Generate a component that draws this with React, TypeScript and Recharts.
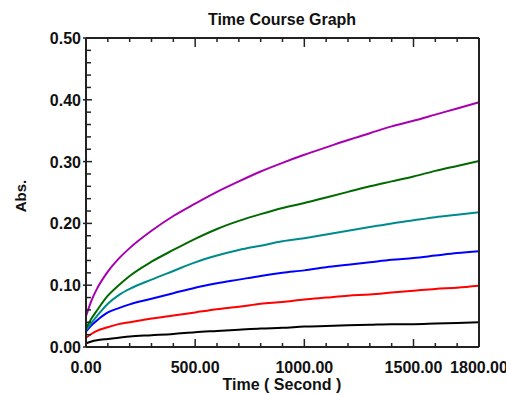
import { LineChart, Line, XAxis, YAxis } from "recharts";

const times = [0, 25, 50, 100, 150, 200, 300, 400, 500, 600, 700, 800, 900, 1000, 1100, 1200, 1300, 1400, 1500, 1600, 1700, 1800];

const purple = [0.05, 0.075, 0.094, 0.122, 0.143, 0.16, 0.188, 0.212, 0.232, 0.251, 0.268, 0.284, 0.298, 0.311, 0.323, 0.335, 0.346, 0.357, 0.366, 0.376, 0.386, 0.396];
const green = [0.03, 0.046, 0.059, 0.083, 0.1, 0.115, 0.138, 0.157, 0.175, 0.191, 0.204, 0.215, 0.225, 0.233, 0.242, 0.251, 0.26, 0.268, 0.276, 0.285, 0.293, 0.301];
const teal = [0.027, 0.039, 0.05, 0.07, 0.084, 0.094, 0.109, 0.123, 0.137, 0.148, 0.157, 0.164, 0.171, 0.176, 0.182, 0.188, 0.194, 0.2, 0.205, 0.21, 0.214, 0.218];
const blue = [0.025, 0.035, 0.043, 0.056, 0.063, 0.069, 0.078, 0.087, 0.096, 0.103, 0.109, 0.115, 0.12, 0.124, 0.129, 0.133, 0.137, 0.141, 0.144, 0.148, 0.152, 0.155];
const red = [0.015, 0.021, 0.026, 0.032, 0.037, 0.04, 0.046, 0.051, 0.056, 0.061, 0.065, 0.07, 0.073, 0.077, 0.08, 0.083, 0.085, 0.088, 0.091, 0.094, 0.096, 0.099];
const black = [0.006, 0.009, 0.011, 0.013, 0.015, 0.017, 0.019, 0.021, 0.024, 0.026, 0.028, 0.03, 0.031, 0.033, 0.034, 0.035, 0.036, 0.037, 0.037, 0.038, 0.039, 0.04];

const xTicks = [0, 100, 200, 300, 400, 500, 600, 700, 800, 900, 1000, 1100, 1200, 1300, 1400, 1500, 1600, 1700, 1800];
const xLabels = [0, 500, 1000, 1500, 1800];
const yTicks = [0, 0.02, 0.04, 0.06, 0.08, 0.1, 0.12, 0.14, 0.16, 0.18, 0.2, 0.22, 0.24, 0.26, 0.28, 0.3, 0.32, 0.34, 0.36, 0.38, 0.4, 0.42, 0.44, 0.46, 0.48, 0.5];
const yLabels = [0, 0.1, 0.2, 0.3, 0.4, 0.5];

const data = times.map((t, i) => ({
  t,
  purple: purple[i],
  green: green[i],
  teal: teal[i],
  blue: blue[i],
  red: red[i],
  black: black[i],
}));

const series = [
  { key: "black", color: "#000000" },
  { key: "red", color: "#ff0000" },
  { key: "blue", color: "#0000ff" },
  { key: "teal", color: "#008b8b" },
  { key: "green", color: "#006a00" },
  { key: "purple", color: "#a800b0" },
];

const font = "'Liberation Sans', Arial, sans-serif";
const frame = "#222";

const isYLabel = (v: number) => yLabels.some((l) => Math.abs(l - v) < 1e-6);

function BottomTick(props: any) {
  const { x, y, payload } = props;
  const major = xLabels.includes(payload.value);
  return (
    <g>
      <line x1={x} x2={x} y1={y} y2={y - (major ? 8 : 4)} stroke={frame} strokeWidth={1.5} />
      {major && (
        <text x={x} y={y + 26} textAnchor="middle" fontFamily={font} fontWeight="bold" fontSize={16} fill="#111">
          {payload.value.toFixed(2)}
        </text>
      )}
    </g>
  );
}

function TopTick(props: any) {
  const { x, y, payload } = props;
  const major = xLabels.includes(payload.value);
  return <line x1={x} x2={x} y1={y} y2={y + (major ? 9 : 4)} stroke={frame} strokeWidth={1.5} />;
}

function LeftTick(props: any) {
  const { x, y, payload } = props;
  const major = isYLabel(payload.value);
  return (
    <g>
      <line x1={major ? x - 3 : x} x2={x + (major ? 6 : 5)} y1={y} y2={y} stroke={frame} strokeWidth={1.5} />
      {major && (
        <text x={x - 5} y={y + 6} textAnchor="end" fontFamily={font} fontWeight="bold" fontSize={16} fill="#111">
          {payload.value.toFixed(2)}
        </text>
      )}
    </g>
  );
}

function RightTick(props: any) {
  const { x, y, payload } = props;
  const major = isYLabel(payload.value);
  return <line x1={major ? x + 2 : x} x2={x - (major ? 6 : 4)} y1={y} y2={y} stroke={frame} strokeWidth={1.5} />;
}

export default function App() {
  return (
    <div style={{ position: "absolute", left: 0, top: 0, width: 506, height: 394, background: "#fff" }}>
      <LineChart width={506} height={394} data={data} margin={{ top: 37, right: 26, bottom: 0, left: 0 }}>
        <XAxis
          xAxisId="b"
          dataKey="t"
          type="number"
          domain={[0, 1800]}
          ticks={xTicks}
          interval={0}
          height={47}
          tickSize={0}
          tickMargin={0}
          tickLine={false}
          axisLine={{ stroke: frame, strokeWidth: 2 }}
          tick={(p: any) => <BottomTick {...p} />}
        />
        <XAxis
          xAxisId="t"
          orientation="top"
          dataKey="t"
          type="number"
          domain={[0, 1800]}
          ticks={xTicks}
          interval={0}
          height={1}
          tickSize={0}
          tickMargin={0}
          tickLine={false}
          axisLine={{ stroke: frame, strokeWidth: 2 }}
          tick={(p: any) => <TopTick {...p} />}
        />
        <YAxis
          yAxisId="l"
          type="number"
          domain={[0, 0.5]}
          ticks={yTicks}
          interval={0}
          width={86}
          tickSize={0}
          tickMargin={0}
          tickLine={false}
          axisLine={{ stroke: frame, strokeWidth: 2 }}
          tick={(p: any) => <LeftTick {...p} />}
        />
        <YAxis
          yAxisId="r"
          orientation="right"
          type="number"
          domain={[0, 0.5]}
          ticks={yTicks}
          interval={0}
          width={1}
          tickSize={0}
          tickMargin={0}
          tickLine={false}
          axisLine={{ stroke: frame, strokeWidth: 2 }}
          tick={(p: any) => <RightTick {...p} />}
        />
        {series.map((s) => (
          <Line
            key={s.key}
            xAxisId="b"
            yAxisId="l"
            dataKey={s.key}
            type="monotone"
            stroke={s.color}
            strokeWidth={2}
            dot={false}
            isAnimationActive={false}
          />
        ))}
      </LineChart>
      <svg width={506} height={394} style={{ position: "absolute", left: 0, top: 0, pointerEvents: "none" }}>
        <text x={282} y={24.5} textAnchor="middle" fontFamily={font} fontWeight="bold" fontSize={16} fill="#111">
          Time Course Graph
        </text>
        <text x={282} y={389.5} textAnchor="middle" fontFamily={font} fontWeight="bold" fontSize={16} fill="#111">
          Time ( Second )
        </text>
        <text
          x={0}
          y={0}
          transform="translate(26,196) rotate(-90)"
          textAnchor="middle"
          fontFamily={font}
          fontWeight="bold"
          fontSize={15}
          fill="#111"
        >
          Abs.
        </text>
      </svg>
    </div>
  );
}
